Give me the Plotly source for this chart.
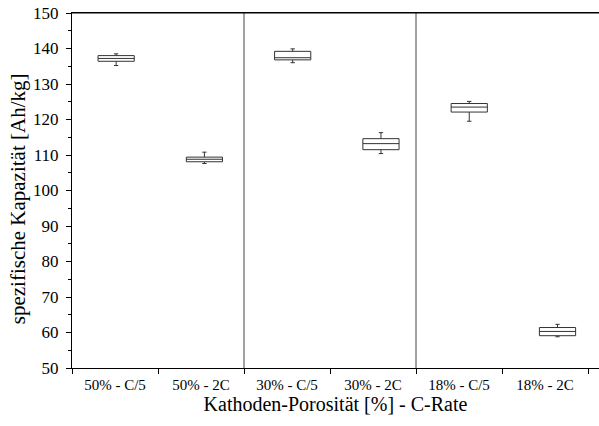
import plotly.graph_objects as go

categories = ["50% - C/5", "50% - 2C", "30% - C/5", "30% - 2C", "18% - C/5", "18% - 2C"]
lower = [135.2, 107.6, 136.0, 110.4, 119.5, 58.8]
q1 = [136.4, 108.1, 136.8, 111.5, 122.1, 59.1]
median = [137.2, 108.8, 137.4, 113.2, 123.5, 60.3]
q3 = [138.0, 109.4, 139.2, 114.6, 124.5, 61.4]
upper = [138.5, 110.8, 139.9, 116.3, 125.1, 62.3]
y_ticks = list(range(50, 151, 10))

FONT = "Liberation Serif, Times New Roman, serif"

fig = go.Figure()
fig.add_trace(go.Box(
    x=categories, q1=q1, median=median, q3=q3,
    lowerfence=lower, upperfence=upper,
    fillcolor="white", line=dict(color="#333333", width=1),
    whiskerwidth=0.12, width=0.41, boxpoints=False,
    showlegend=False, hoverinfo="skip",
))
# invisible trace to activate the label axis
fig.add_trace(go.Scatter(x=[0], y=[None], xaxis="x2", yaxis="y",
                         mode="markers", showlegend=False, hoverinfo="skip"))

fig.update_layout(
    width=599, height=426,
    margin=dict(l=72, r=0, t=12.5, b=58),
    paper_bgcolor="white", plot_bgcolor="white",
    font=dict(family=FONT, size=15, color="black"),
    xaxis=dict(
        type="category", range=[-0.5, 5.47], automargin=False,
        showline=True, linecolor="black", linewidth=1, mirror=True,
        showticklabels=False, ticks="", showgrid=False, zeroline=False,
    ),
    xaxis2=dict(
        overlaying="x", anchor="y", side="bottom", automargin=False,
        range=[-0.5, -0.5 + 527 / 86],
        tickmode="array", tickvals=list(range(len(categories))), ticktext=categories,
        ticks="", showline=False, showgrid=False, zeroline=False,
        tickfont=dict(size=15), ticklabelstandoff=6,
        minor=dict(ticks="outside", tick0=-0.5, dtick=1, ticklen=5,
                   tickcolor="black", tickwidth=1, showgrid=False),
        title=dict(text="Kathoden-Porosität [%] - C-Rate", font=dict(size=20), standoff=2),
    ),
    yaxis=dict(
        range=[50, 150], tickmode="array", tickvals=y_ticks, automargin=False,
        ticks="outside", ticklen=5, tickcolor="black", ticklabeloverflow="allow",
        minor=dict(ticks="outside", dtick=5, ticklen=3, tickcolor="black"),
        showline=True, linecolor="black", linewidth=1,
        showgrid=False, zeroline=False, tickfont=dict(size=17), ticklabelstandoff=4,
    ),
    annotations=[dict(
        text="spezifische Kapazität [Ah/kg]", textangle=-90,
        xref="paper", yref="paper", x=-(72 - 18) / 527, y=(368 - 199) / 355.5,
        xanchor="center", yanchor="middle", showarrow=False,
        font=dict(size=21),
    )],
    shapes=[
        dict(type="line", xref="x2", yref="paper", x0=b, x1=b, y0=0, y1=1,
             line=dict(color="#444444", width=1))
        for b in (1.5, 3.5)
    ] + [
        dict(type="line", xref="paper", yref="paper", x0=0, x1=1, y0=1, y1=1,
             line=dict(color="black", width=1))
    ],
)

fig.write_html("out.html", config={"displayModeBar": False},
               post_script="document.body.style.margin='0';")
